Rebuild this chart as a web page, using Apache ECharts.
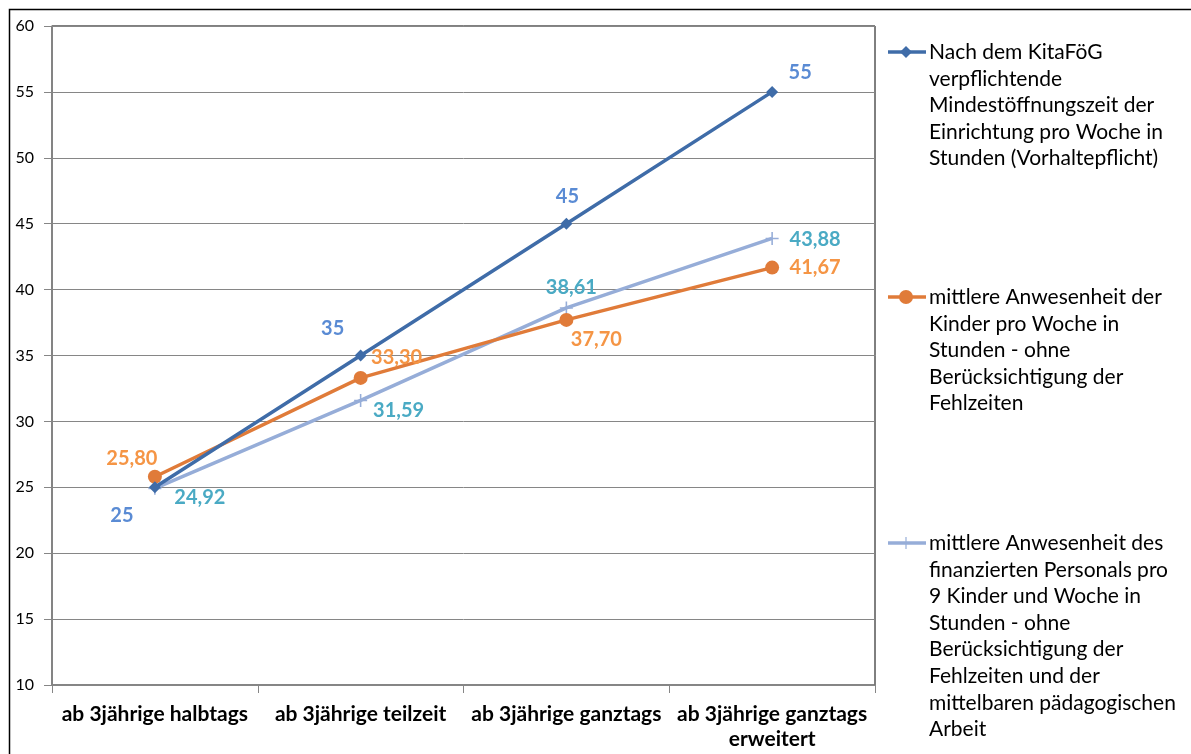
<!DOCTYPE html>
<html>
<head>
<meta charset="utf-8">
<script src="https://cdn.jsdelivr.net/npm/echarts@6/dist/echarts.min.js"></script>
<style>
  html, body { margin: 0; padding: 0; background: #fff; }
  #chart { width: 1191px; height: 754px; }
</style>
</head>
<body>
<div id="chart"></div>
<script>
const categories = ['ab 3jährige halbtags', 'ab 3jährige teilzeit', 'ab 3jährige ganztags', 'ab 3jährige ganztags\nerweitert'];
const seriesNames = [
  'Nach dem KitaFöG\nverpflichtende\nMindestöffnungszeit der\nEinrichtung pro Woche in\nStunden (Vorhaltepflicht)',
  'mittlere Anwesenheit der\nKinder pro Woche in\nStunden - ohne\nBerücksichtigung der\nFehlzeiten',
  'mittlere Anwesenheit des\nfinanzierten Personals pro\n9 Kinder und Woche in\nStunden - ohne\nBerücksichtigung der\nFehlzeiten und der\nmittelbaren pädagogischen\nArbeit'
];
const oeffnungszeit = [25, 35, 45, 55];
const anwesenheitKinder = [25.80, 33.30, 37.70, 41.67];
const anwesenheitPersonal = [24.92, 31.59, 38.61, 43.88];
const yTicks = { min: 10, max: 60, interval: 5 };

// label offsets (px) per point
const offs1 = [[-33, 28], [-28, -27], [1, -27], [28, -19]];
const offs2 = [[-23, -18], [36, -20], [30, 20], [43, 0]];
const offs3 = [[45, 9], [38, 10], [5, -20], [43, 1]];

const FONT = 'Lato';
const lineColors = ['#3f6ca8', '#e07b39', '#96add8'];
const labelColors = ['#5a8bd4', '#f59545', '#4aaac4'];
const plusPath = 'path://M4.4,0h1.2v10h-1.2zM0,4.4h10v1.2h-10z';

function fmt(dec) {
  return p => dec ? p.value.toFixed(2).replace('.', ',') : String(p.value);
}

function withLabels(values, offs) {
  return values.map((v, i) => ({ value: v, label: { offset: offs[i] } }));
}

const chart = echarts.init(document.getElementById('chart'), null, { renderer: 'canvas' });

const labelStyle = { show: true, position: 'inside', fontFamily: FONT, fontWeight: 'bold', fontSize: 20 };
const legendFont = '21px ' + FONT;

const option = {
  backgroundColor: '#fff',
  animation: false,
  grid: { left: 52, right: 316, top: 26, bottom: 69, show: true, borderColor: '#000', borderWidth: 1 },
  xAxis: {
    type: 'category',
    data: categories,
    boundaryGap: true,
    axisLine: { lineStyle: { color: '#868686', width: 1.5 } },
    axisTick: { show: true, length: 8, lineStyle: { color: '#868686' } },
    axisLabel: { color: '#000', fontFamily: FONT, fontWeight: 'bold', fontSize: 21, margin: 17, lineHeight: 25, interval: 0 }
  },
  yAxis: {
    type: 'value',
    min: yTicks.min, max: yTicks.max, interval: yTicks.interval,
    axisLine: { show: true, lineStyle: { color: '#868686', width: 1.5 } },
    axisTick: { show: true, length: 8, lineStyle: { color: '#868686' } },
    splitLine: { lineStyle: { color: '#868686', width: 1 } },
    axisLabel: { color: '#000', fontFamily: FONT, fontSize: 16, margin: 18 }
  },
  series: [
    {
      name: seriesNames[0], type: 'line',
      data: withLabels(oeffnungszeit, offs1),
      symbol: 'diamond', symbolSize: 12,
      lineStyle: { color: lineColors[0], width: 3.5 },
      itemStyle: { color: lineColors[0] },
      label: Object.assign({ formatter: fmt(false), color: labelColors[0] }, labelStyle),
      z: 4
    },
    {
      name: seriesNames[1], type: 'line',
      data: withLabels(anwesenheitKinder, offs2),
      symbol: 'circle', symbolSize: 14,
      lineStyle: { color: lineColors[1], width: 3.5 },
      itemStyle: { color: lineColors[1] },
      label: Object.assign({ formatter: fmt(true), color: labelColors[1] }, labelStyle),
      z: 3
    },
    {
      name: seriesNames[2], type: 'line',
      data: withLabels(anwesenheitPersonal, offs3),
      symbol: plusPath, symbolSize: 13,
      lineStyle: { color: lineColors[2], width: 3.5 },
      itemStyle: { color: lineColors[2] },
      label: Object.assign({ formatter: fmt(true), color: labelColors[2] }, labelStyle),
      z: 2
    }
  ],
  graphic: [
    { type: 'rect', left: 7, top: 7, shape: { width: 1250, height: 800 }, style: { fill: null, stroke: '#000', lineWidth: 1.5 }, silent: true },
    // legend
    { type: 'line', shape: { x1: 888, y1: 52, x2: 926, y2: 52 }, style: { stroke: lineColors[0], lineWidth: 3.5 } },
    { type: 'polygon', shape: { points: [[906, 46], [912, 52], [906, 58], [900, 52]] }, style: { fill: lineColors[0] } },
    { type: 'text', x: 929, y: 39, style: { text: seriesNames[0], font: legendFont, fill: '#000', lineHeight: 26.6 } },
    { type: 'line', shape: { x1: 888, y1: 297, x2: 926, y2: 297 }, style: { stroke: lineColors[1], lineWidth: 3.5 } },
    { type: 'circle', shape: { cx: 906, cy: 297, r: 7 }, style: { fill: lineColors[1] } },
    { type: 'text', x: 929, y: 284, style: { text: seriesNames[1], font: legendFont, fill: '#000', lineHeight: 26.6 } },
    { type: 'line', shape: { x1: 888, y1: 543, x2: 926, y2: 543 }, style: { stroke: lineColors[2], lineWidth: 3.5 } },
    { type: 'line', shape: { x1: 906, y1: 537, x2: 906, y2: 549 }, style: { stroke: lineColors[2], lineWidth: 1.2 } },
    { type: 'text', x: 929, y: 530, style: { text: seriesNames[2], font: legendFont, fill: '#000', lineHeight: 26.6 } }
  ]
};

chart.setOption(option);
</script>
</body>
</html>
